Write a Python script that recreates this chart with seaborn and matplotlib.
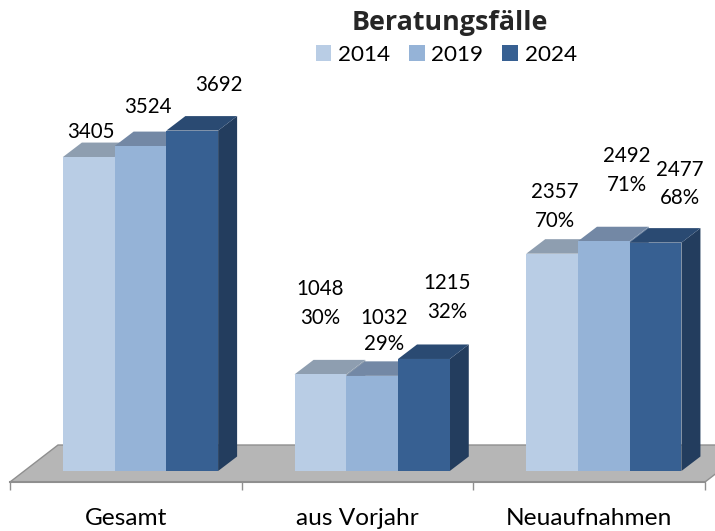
import matplotlib
matplotlib.use('Agg')
import matplotlib.pyplot as plt
import pandas as pd
import seaborn as sns
from matplotlib.patches import Polygon

# Values
categories = ['Gesamt', 'aus Vorjahr', 'Neuaufnahmen']
years = ['2014', '2019', '2024']
values_2014 = [3405, 1048, 2357]
values_2019 = [3524, 1032, 2492]
values_2024 = [3692, 1215, 2477]
shares_2014 = [None, '30%', '70%']
shares_2019 = [None, '29%', '71%']
shares_2024 = [None, '32%', '68%']

front_colors = ['#B9CDE5', '#95B3D7', '#376092']
top_colors = ['#8E9EB0', '#7388A5', '#2A4A72']
side_colors = ['#8A9AAC', '#6F86A3', '#233D5E']

# Label offsets from the bar's top centre, in pixels
label_dx = [[2, 7.5, 27], [0, 12, 23], [3, 23, 24]]
label_dy = [[25.5, 39.5, 46], [71, 45, 61], [47, 70.5, 58.5]]
label_spacing = [[1.5, 1.5, 1.5], [1.56, 1.35, 1.56], [1.56, 1.56, 1.5]]

WIDTH, HEIGHT = 715, 531
AXIS_LEFT, AXIS_RIGHT, AXIS_Y = 10, 705, 482
ZERO_Y = 471
PX_PER_UNIT = 0.0922
FIRST_CENTER = 140.5
BAR_DEPTH = (19, 14.5)
FLOOR_DEPTH = (48, 37)

sns.set_theme(style='white')
plt.rcParams['font.family'] = ['Lato', 'DejaVu Sans']
plt.rcParams['text.color'] = 'black'

df = pd.DataFrame({'Gruppe': categories, '2014': values_2014, '2019': values_2019, '2024': values_2024})
df = df.melt(id_vars='Gruppe', var_name='Jahr', value_name='Faelle')

fig = plt.figure(figsize=(WIDTH / 100, HEIGHT / 100), dpi=100)
ax = fig.add_axes([AXIS_LEFT / WIDTH, (HEIGHT - AXIS_Y) / HEIGHT,
                   (AXIS_RIGHT - AXIS_LEFT) / WIDTH, AXIS_Y / HEIGHT])
sns.barplot(data=df, x='Gruppe', y='Faelle', hue='Jahr', order=categories, hue_order=years,
            palette=front_colors, saturation=1, width=0.67, gap=0, linewidth=0, ax=ax)

group_px = (AXIS_RIGHT - AXIS_LEFT) / 3
x_left = (AXIS_LEFT - FIRST_CENTER) / group_px
ax.set_xlim(x_left, x_left + 3)
ax.set_ylim(-(AXIS_Y - ZERO_Y) / PX_PER_UNIT, ZERO_Y / PX_PER_UNIT)

# Floor of the 3D look
y0 = ax.get_ylim()[0]
floor_dx = FLOOR_DEPTH[0] / group_px
floor_dy = FLOOR_DEPTH[1] / PX_PER_UNIT
ax.add_patch(Polygon([(x_left, y0), (x_left + 3, y0), (x_left + 3 + floor_dx, y0 + floor_dy),
                      (x_left + floor_dx, y0 + floor_dy)],
                     closed=True, facecolor='#B6B6B6', edgecolor='#8F8F8F', linewidth=1,
                     clip_on=False, zorder=1))

# Top and side faces, derived from the bars
dx = BAR_DEPTH[0] / group_px
dy = BAR_DEPTH[1] / PX_PER_UNIT
for i, container in enumerate(ax.containers):
    for j, bar in enumerate(container):
        x1 = bar.get_x()
        x2 = x1 + bar.get_width()
        h = bar.get_height()
        z = 3 + j * 10 + i * 2
        ax.add_patch(Polygon([(x2, 0), (x2 + dx, dy), (x2 + dx, h + dy), (x2, h)], closed=True,
                             facecolor=side_colors[i], edgecolor='none', zorder=z, clip_on=False))
        ax.add_patch(Polygon([(x1, h), (x1 + dx, h + dy), (x2 + dx, h + dy), (x2, h)], closed=True,
                             facecolor=top_colors[i], edgecolor='none', zorder=z, clip_on=False))
        bar.set_zorder(z + 1)

# Data labels
all_shares = [shares_2014, shares_2019, shares_2024]
for i, container in enumerate(ax.containers):
    for j, bar in enumerate(container):
        label = str(int(bar.get_height()))
        if all_shares[i][j]:
            label += '\n' + all_shares[i][j]
        ax.annotate(label, (bar.get_x() + bar.get_width() / 2, bar.get_height()),
                    xytext=(label_dx[j][i], label_dy[j][i]), textcoords='offset pixels',
                    ha='center', va='center', fontsize=14.8, color='black',
                    linespacing=label_spacing[j][i], zorder=100, annotation_clip=False)

# Axis: ticks on group borders, labels left of the bar centres
sns.despine(ax=ax, left=True, top=True, right=True)
ax.spines['bottom'].set_color('#8F8F8F')
ax.spines['bottom'].set_linewidth(1.5)
ax.spines['bottom'].set_zorder(2)
ax.set_xlabel('')
ax.set_ylabel('')
ax.set_yticks([])
ax.set_xticks([x_left + k for k in range(4)])
ax.set_xticklabels([])
ax.set_xticks([x_left + 0.5 + k for k in range(3)], labels=categories, minor=True)
ax.tick_params(axis='x', which='major', length=5.8, width=1, color='#8F8F8F', bottom=True)
ax.tick_params(axis='x', which='minor', length=0, pad=18.5, labelsize=17.6, labelcolor='black')

sns.move_legend(ax, 'upper left', bbox_to_anchor=(316 / WIDTH, 1 - 45 / HEIGHT),
                bbox_transform=fig.transFigure, ncol=3, frameon=False, title=None,
                fontsize=16.2, handlelength=0.68, handleheight=0.7, handletextpad=0.3,
                columnspacing=0.85, borderpad=0, borderaxespad=0, labelcolor='black')

fig.text(450 / WIDTH, 1 - 23 / HEIGHT, 'Beratungsfälle', ha='center', va='center',
         fontsize=19.4, fontweight='bold', family=['Open Sans', 'DejaVu Sans'], color='#262626')

fig.savefig('out.png', dpi=100)
